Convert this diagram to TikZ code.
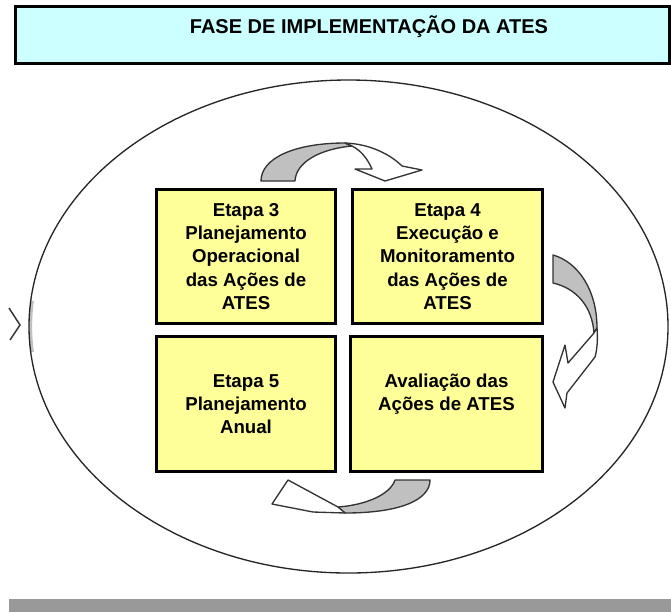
\documentclass[tikz,border=0pt]{standalone}
\usepackage{fontspec}
\setmainfont{Liberation Sans}
\definecolor{amarelo}{HTML}{FFFF99}
\definecolor{ciano}{HTML}{CCFFFF}
\definecolor{prata}{HTML}{C0C0C0}
\definecolor{contorno}{HTML}{333333}
\begin{document}
\begin{tikzpicture}[x = {(0.75pt,0pt)},
	y = {(0pt,-0.75pt)},
	etapa/.style = {draw, line width=2.25pt, fill=amarelo, align=center, inner sep=0pt,
		font=\fontsize{14pt}{17.5pt}\selectfont\bfseries},
	seta/.style = {draw=contorno, line width=1pt, line join=round}]
	\useasboundingbox (0,0) rectangle (671,612);
	
	\filldraw[fill=ciano, line width=2.25pt] (15,6) rectangle (669,63);
	\node[font=\fontsize{15pt}{17pt}\selectfont\bfseries] (titulo) at (369,27) {FASE DE IMPLEMENTAÇÃO DA ATES};
	
	\draw[prata, line width=2.5pt] (348.5,326.5) ++(174:318 and 245) arc [start angle=174, end angle=186, x radius=318, y radius=245];
	\draw[line width=1pt, black!85] (348.5,326.5) ellipse [x radius=319.5, y radius=246.5];
	\draw[contorno, line width=1.1pt] (9,308) -- (20,325) -- (10,340);
	
	\node[etapa, minimum width=134.25pt, minimum height=100.5pt] (etapa3) at (246,256.5) {Etapa 3\\Planejamento\\Operacional\\das Ações de\\ATES};
	\node[etapa, minimum width=142.5pt, minimum height=100.5pt] (etapa4) at (447.5,256.5) {Etapa 4\\Execução e\\Monitoramento\\das Ações de\\ATES};
	\node[etapa, minimum width=134.25pt, minimum height=101.25pt] (etapa5) at (246,404) {Etapa 5\\Planejamento\\Anual};
	\node[etapa, minimum width=144pt, minimum height=101.25pt] (avaliacao) at (446.5,404) {Avaliação das\\Ações de ATES\\~};
	
	\filldraw[seta, fill=prata] (261,181) .. controls (261,158) and (295,143) .. (345,143) -- (352,146) .. controls (320,149) and (296,162) .. (295,181) -- cycle;
	\filldraw[seta, fill=white] (345,143) .. controls (372,144) and (392,156) .. (402,166) -- (422,170) -- (385,181) -- (355,169) -- (372,169) .. controls (368,160) and (362,151) .. (352,146) -- cycle;
	
	\filldraw[seta, fill=prata] (553,255) .. controls (578,262) and (597,290) .. (597,328) -- (594,333) .. controls (592,305) and (575,288) .. (553,283) -- cycle;
	\filldraw[seta, fill=white] (597,328) .. controls (598,340) and (597,350) .. (595,357) -- (567,393) -- (565,408) -- (553,382) -- (565,345) -- (568,363) -- (594,333) -- cycle;
	
	\filldraw[seta, fill=prata] (395,480) -- (430,480) .. controls (430,500) and (400,513) .. (345,513) -- (338,507) .. controls (365,505) and (390,495) .. (395,480) -- cycle;
	\filldraw[seta, fill=white] (338,507) -- (288,480) -- (272,504) -- (313,512) -- (345,513) -- cycle;
	
	\fill[black!40] (9,599) rectangle (671,612);
\end{tikzpicture}
\end{document}
